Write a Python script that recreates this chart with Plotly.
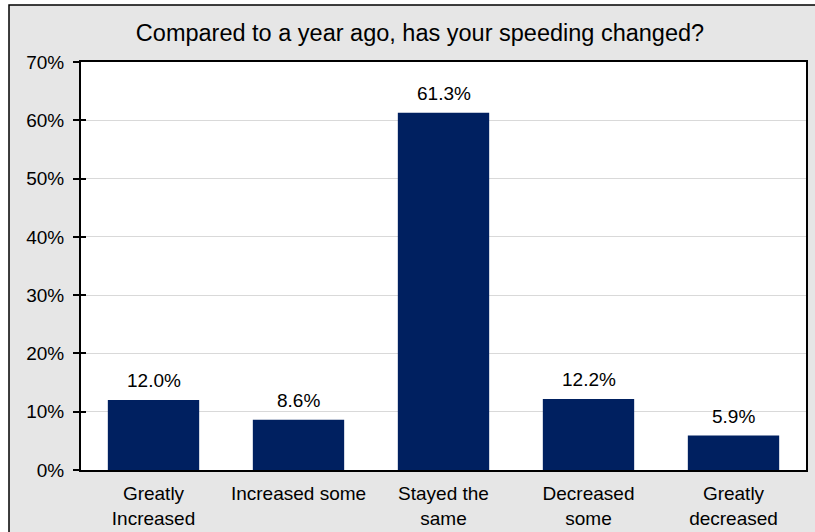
import plotly.graph_objects as go

categories = ["Greatly<br>Increased", "Increased some", "Stayed the<br>same",
              "Decreased<br>some", "Greatly<br>decreased"]
shares = [12.0, 8.6, 61.3, 12.2, 5.9]
y_ticks = [0, 10, 20, 30, 40, 50, 60, 70]
y_tick_labels = [f"{v}%" for v in y_ticks]

W, H = 815, 532
ML, MR, MT, MB = 81, 9, 62, 62
PW, PH = W - ML - MR, H - MT - MB

def px_x(x):
    return (x - ML) / PW

def px_y(y):
    return (H - MB - y) / PH

FONT = "Liberation Sans, Arial, sans-serif"
NAVY = "#002060"

fig = go.Figure()
fig.add_trace(go.Bar(
    x=categories, y=shares,
    marker=dict(color=NAVY, line=dict(width=0)),
    hoverinfo="skip",
))
# invisible trace carrying the inner tick marks
fig.add_trace(go.Scatter(x=[categories[0]], y=[0], yaxis="y2", mode="markers",
                         marker=dict(opacity=0), showlegend=False, hoverinfo="skip"))

# value labels above each bar
for cat, val in zip(categories, shares):
    fig.add_annotation(x=cat, y=val, text=f"{val:.1f}%", showarrow=False,
                       yanchor="bottom", yshift=7,
                       font=dict(size=19, family=FONT, color="#000000"))

fig.update_layout(
    width=W, height=H,
    margin=dict(l=ML, r=MR, t=MT, b=MB, autoexpand=False),
    paper_bgcolor="#e6e6e6", plot_bgcolor="#ffffff",
    showlegend=False, bargap=0.37,
    font=dict(family=FONT, color="#000000", size=19),
    title=dict(text="Compared to a year ago, has your speeding changed?",
               x=px_x(420), xref="paper", xanchor="center",
               y=1 - 33 / H, yanchor="middle",
               font=dict(size=23.5, family=FONT, color="#000000")),
    xaxis=dict(showgrid=False, ticks="", showline=True, linecolor="#000000",
               linewidth=2, mirror=True, tickfont=dict(size=19),
               ticklabelstandoff=5, automargin=False),
    yaxis=dict(range=[0, 70], tickvals=y_ticks, ticktext=y_tick_labels,
               showgrid=True, gridcolor="#d9d9d9", gridwidth=1,
               ticks="outside", ticklen=6, tickcolor="#000000", tickwidth=1.5,
               showline=True, linecolor="#000000", linewidth=2, mirror=True,
               zeroline=False, tickfont=dict(size=19), ticklabelstandoff=5,
               automargin=False),
    yaxis2=dict(range=[0, 70], overlaying="y", tickvals=y_ticks,
                showticklabels=False, ticks="inside", ticklen=5,
                tickcolor="#000000", tickwidth=1.5, showgrid=False,
                showline=False, zeroline=False, automargin=False),
)

# white margin outside the frame, and the frame itself
fig.add_shape(type="rect", xref="paper", yref="paper", layer="above",
              x0=px_x(0), x1=px_x(9), y0=px_y(H + 10), y1=px_y(0),
              fillcolor="#ffffff", line=dict(width=0))
fig.add_shape(type="rect", xref="paper", yref="paper", layer="above",
              x0=px_x(0), x1=px_x(W + 10), y0=px_y(5), y1=px_y(0),
              fillcolor="#ffffff", line=dict(width=0))
fig.add_shape(type="rect", xref="paper", yref="paper", layer="above",
              x0=px_x(9), x1=px_x(W + 10), y0=px_y(H + 10), y1=px_y(5),
              line=dict(color="#000000", width=1.5))

fig.write_html("out.html")
